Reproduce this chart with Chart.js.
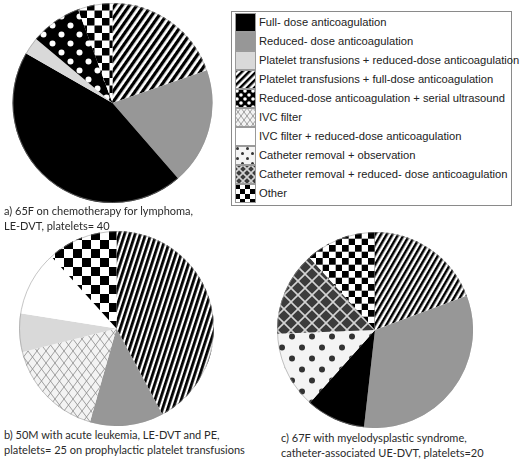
<!DOCTYPE html>
<html><head><meta charset="utf-8">
<script src="https://cdn.jsdelivr.net/npm/chart.js@4.4.1/dist/chart.umd.min.js"></script>
<style>
html,body{margin:0;padding:0;background:#fff;width:520px;height:459px;overflow:hidden;position:relative}
.pie{position:absolute}
.cap{position:absolute;font-family:Lato,'Open Sans',sans-serif;font-size:11px;color:#2a2a2a;line-height:15px;white-space:nowrap}
#legend{position:absolute;left:231px;top:11px;width:281px;height:195px;border:1px solid #8a8a8a;box-sizing:border-box;background:#fff}
.lrow{position:absolute;left:3px;height:19px;width:270px}
.lrow canvas{position:absolute;left:0;top:0}
.lrow span{position:absolute;left:24px;top:0;line-height:19px;font-family:'Liberation Sans',Arial,sans-serif;font-size:11.2px;color:#222;white-space:nowrap}
</style>
</head><body>
<canvas id="pieA" class="pie" width="201" height="200" style="left:12px;top:3px"></canvas>
<canvas id="pieB" class="pie" width="195" height="195" style="left:19px;top:231px"></canvas>
<canvas id="pieC" class="pie" width="196" height="196" style="left:277px;top:232px"></canvas>
<div id="legend"></div>
<div class="cap" style="left:4px;top:203px">a) 65F on chemotherapy for lymphoma,<br>LE-DVT, platelets= 40</div>
<div class="cap" style="left:4px;top:427px">b) 50M with acute leukemia, LE-DVT and PE,<br>platelets= 25 on prophylactic platelet transfusions</div>
<div class="cap" style="left:281px;top:430px">c) 67F with myelodysplastic syndrome,<br>catheter-associated UE-DVT, platelets=20</div>
<script>
// ---- data ----
const categories = [
  'Full- dose anticoagulation',
  'Reduced- dose anticoagulation',
  'Platelet transfusions + reduced-dose anticoagulation',
  'Platelet transfusions + full-dose anticoagulation',
  'Reduced-dose anticoagulation + serial ultrasound',
  'IVC filter',
  'IVC filter + reduced-dose anticoagulation',
  'Catheter removal + observation',
  'Catheter removal + reduced- dose anticoagulation',
  'Other'
];
// slices in clockwise order from 12 o'clock (percent)
const pieALabels = [categories[3], categories[1], categories[0], categories[2], categories[4], categories[9]];
const pieAValues = [19.7, 18.9, 44.7, 2.8, 8.3, 5.6];
const pieBLabels = [categories[3], categories[1], categories[5], categories[2], categories[6], categories[9]];
const pieBValues = [42.2, 12.2, 16.7, 6.4, 10.8, 11.7];
const pieCLabels = [categories[3], categories[1], categories[0], categories[7], categories[8], categories[9]];
const pieCValues = [19.3, 32.5, 9.8, 12.8, 13.9, 11.7];

// ---- pattern helpers (styles) ----
function tile(w, h, draw) {
  const c = document.createElement('canvas');
  c.width = w; c.height = h;
  draw(c.getContext('2d'), w, h);
  return c;
}
function pat(ctx, canvas, angle) {
  const p = ctx.createPattern(canvas, 'repeat');
  if (angle) p.setTransform(new DOMMatrix().rotate(angle));
  return p;
}
function stripes(ctx, period, angle) {
  return pat(ctx, tile(period, period, (g, w, h) => {
    g.fillStyle = '#fff'; g.fillRect(0, 0, w, h);
    g.fillStyle = '#000'; g.fillRect(0, 0, w / 2, h);
  }), angle);
}
function checker(ctx, cell) {
  return pat(ctx, tile(cell * 2, cell * 2, (g) => {
    g.fillStyle = '#fff'; g.fillRect(0, 0, cell * 2, cell * 2);
    g.fillStyle = '#000'; g.fillRect(0, 0, cell, cell); g.fillRect(cell, cell, cell, cell);
  }));
}
function dots(ctx, w, h, r, bg, fg) {
  return pat(ctx, tile(w, h, (g) => {
    g.fillStyle = bg; g.fillRect(0, 0, w, h);
    g.fillStyle = fg;
    g.beginPath(); g.arc(w * 0.25, h * 0.25, r, 0, Math.PI * 2); g.fill();
    g.beginPath(); g.arc(w * 0.75, h * 0.75, r, 0, Math.PI * 2); g.fill();
  }));
}
function lattice(ctx, w, h, lw, bg, fg) {
  return pat(ctx, tile(w, h, (g) => {
    g.fillStyle = bg; g.fillRect(0, 0, w, h);
    g.strokeStyle = fg; g.lineWidth = lw;
    for (let k = -1; k <= 1; k++) {
      g.beginPath(); g.moveTo(k * w, 0); g.lineTo(k * w + w, h); g.stroke();
      g.beginPath(); g.moveTo(k * w + w, 0); g.lineTo(k * w, h); g.stroke();
    }
  }));
}
function fills(ctx, s) {
  return {
    [categories[0]]: '#000000',
    [categories[1]]: '#979797',
    [categories[2]]: '#d9d9d9',
    [categories[3]]: stripes(ctx, s.stripeP, s.stripeA),
    [categories[4]]: dots(ctx, s.dotW, s.dotW, s.dotR, '#000', '#fff'),
    [categories[5]]: lattice(ctx, s.ivcW, s.ivcH, 0.8, '#f3f3f3', '#8a8a8a'),
    [categories[6]]: '#ffffff',
    [categories[7]]: dots(ctx, s.cdW, s.cdH, s.cdR, '#f4f4f4', '#333'),
    [categories[8]]: lattice(ctx, s.xhW, s.xhW, 1.6, '#3c3c3c', '#d4d4d4'),
    [categories[9]]: checker(ctx, s.cell)
  };
}
const styleA = {stripeP: 6.5, stripeA: 35, dotW: 18, dotR: 3, ivcW: 9, ivcH: 12, cdW: 20, cdH: 22, cdR: 2.8, xhW: 14, cell: 7.5};
const styleB = {stripeP: 5.6, stripeA: 18, dotW: 18, dotR: 3, ivcW: 9, ivcH: 12, cdW: 20, cdH: 22, cdR: 2.8, xhW: 14, cell: 9};
const styleC = {stripeP: 5, stripeA: 30, dotW: 18, dotR: 3, ivcW: 9, ivcH: 12, cdW: 20, cdH: 22, cdR: 3, xhW: 14, cell: 6.7};

const outline = {
  id: 'outline',
  afterDatasetsDraw(chart) {
    const arc = chart.getDatasetMeta(0).data[0];
    if (!arc) return;
    const c = chart.ctx;
    c.save();
    c.strokeStyle = 'rgba(150,150,150,0.55)';
    c.lineWidth = 1;
    c.beginPath();
    c.arc(arc.x, arc.y, arc.outerRadius - 0.5, 0, Math.PI * 2);
    c.stroke();
    c.restore();
  }
};

function makePie(id, labels, values, style) {
  const cv = document.getElementById(id);
  const ctx = cv.getContext('2d');
  const f = fills(ctx, style);
  return new Chart(ctx, {
    type: 'pie',
    data: {
      labels: labels,
      datasets: [{
        data: values,
        backgroundColor: labels.map(l => f[l]),
        borderWidth: 0,
        hoverOffset: 0,
        offset: 0
      }]
    },
    options: {
      responsive: false,
      animation: false,
      events: [],
      devicePixelRatio: 1,
      layout: {padding: 0},
      plugins: {legend: {display: false}, tooltip: {enabled: false}}
    },
    plugins: [outline]
  });
}
makePie('pieA', pieALabels, pieAValues, styleA);
makePie('pieB', pieBLabels, pieBValues, styleB);
makePie('pieC', pieCLabels, pieCValues, styleC);

// ---- legend ----
const legend = document.getElementById('legend');
const styleL = {stripeP: 5, stripeA: 45, dotW: 8, dotR: 1.8, ivcW: 6, ivcH: 8, cdW: 10, cdH: 10, cdR: 1.5, xhW: 8, cell: 5};
categories.forEach((name, i) => {
  const row = document.createElement('div');
  row.className = 'lrow';
  row.style.top = (1 + i * 19) + 'px';
  const sw = document.createElement('canvas');
  sw.width = 21; sw.height = 19;
  const g = sw.getContext('2d');
  const f = fills(g, styleL);
  g.fillStyle = f[name];
  g.fillRect(0, 0, 21, 19);
  g.strokeStyle = '#9a9a9a'; g.lineWidth = 1;
  g.strokeRect(0.5, 0.5, 20, 18);
  const sp = document.createElement('span');
  sp.textContent = name;
  row.appendChild(sw); row.appendChild(sp);
  legend.appendChild(row);
});
</script>
</body></html>
